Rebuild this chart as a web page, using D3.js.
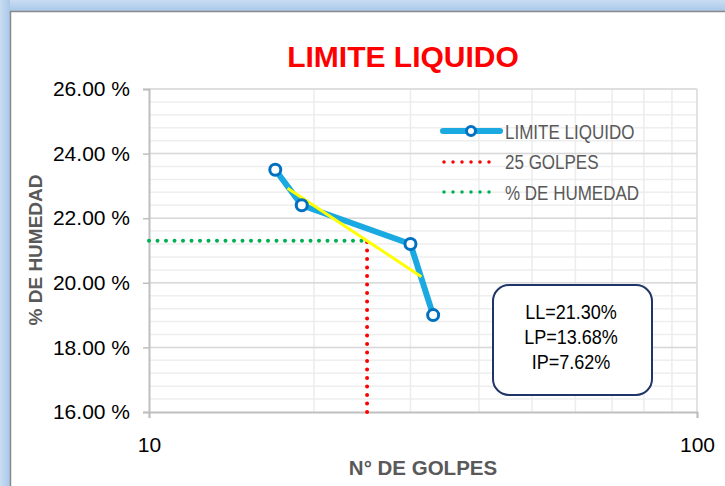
<!DOCTYPE html>
<html>
<head>
<meta charset="utf-8">
<script src="https://cdn.jsdelivr.net/npm/d3@7"></script>
<style>
  body { margin: 0; background: #fff; }
  .chart { width: 725px; height: 486px; }
</style>
</head>
<body>
<div class="chart"></div>
<script>
// datos del ensayo
var golpes = [17, 19, 30, 33];
var humedad = [23.5, 22.4, 21.2, 19.0];
var tendenciaGolpes = [17.9, 31.4];
var tendenciaHumedad = [22.93, 20.19];
var golpesLL = 25;
var limiteLiquido = 21.30;
var resultados = ["LL=21.30%", "LP=13.68%", "IP=7.62%"];
var leyenda = ["LIMITE LIQUIDO", "25 GOLPES", "% DE HUMEDAD"];
var yTicks = [16, 18, 20, 22, 24, 26];
var xTicks = [10, 100];
var xGrid = [20, 30, 40, 50, 60, 70, 80, 90];

var width = 725,
    height = 486;

var fuente = "'Liberation Sans', Arial, sans-serif";

var svg = d3.select(".chart").append("svg")
            .attr("width", width)
            .attr("height", height);

var defs = svg.append("defs");
var grad = defs.append("linearGradient").attr("id", "barra").attr("x1", 0).attr("y1", 0).attr("x2", 0).attr("y2", 1);
grad.append("stop").attr("offset", "0%").attr("stop-color", "#c9ddf2");
grad.append("stop").attr("offset", "100%").attr("stop-color", "#a9c8ea");
var gradL = defs.append("linearGradient").attr("id", "barraL").attr("x1", 0).attr("y1", 0).attr("x2", 1).attr("y2", 0);
gradL.append("stop").attr("offset", "0%").attr("stop-color", "#c9ddf2");
gradL.append("stop").attr("offset", "100%").attr("stop-color", "#a9c8ea");

// marco de la ventana
svg.append("rect").attr("x", 0).attr("y", 0).attr("width", width).attr("height", 11).attr("fill", "url(#barra)");
svg.append("rect").attr("x", 0).attr("y", 0).attr("width", 10).attr("height", height).attr("fill", "url(#barraL)");
svg.append("path")
   .attr("d", "M10.5," + height + "V11.5H" + width)
   .attr("fill", "none")
   .attr("stroke", "#8a8a8a")
   .attr("stroke-width", 1.5);

var x = d3.scaleLog()
          .domain([10, 100])
          .range([149, 697]);

var y = d3.scaleLinear()
          .domain([16, 26])
          .range([412, 89]);

// cuadricula
svg.selectAll(".minor")
   .data(d3.range(16.4, 26, 0.4))
   .enter().append("line")
   .attr("x1", x(10)).attr("x2", x(100))
   .attr("y1", function(d) { return y(d); })
   .attr("y2", function(d) { return y(d); })
   .attr("stroke", "#eeeeee")
   .attr("stroke-width", 1.5);

svg.selectAll(".vgrid")
   .data(xGrid)
   .enter().append("line")
   .attr("x1", function(d) { return x(d); })
   .attr("x2", function(d) { return x(d); })
   .attr("y1", y(26)).attr("y2", y(16))
   .attr("stroke", "#ececec")
   .attr("stroke-width", 1.5);

svg.selectAll(".major")
   .data(yTicks.slice(1))
   .enter().append("line")
   .attr("x1", x(10)).attr("x2", x(100))
   .attr("y1", function(d) { return y(d); })
   .attr("y2", function(d) { return y(d); })
   .attr("stroke", "#d9d9d9")
   .attr("stroke-width", 1.5);

svg.append("line")
   .attr("x1", x(100)).attr("x2", x(100))
   .attr("y1", y(26)).attr("y2", y(16))
   .attr("stroke", "#d9d9d9")
   .attr("stroke-width", 1.5);

// ejes
var yAxis = d3.axisLeft(y)
              .tickValues(yTicks)
              .tickSize(6)
              .tickPadding(13)
              .tickFormat(function(d) { return d3.format(".2f")(d) + " %"; });

var xAxis = d3.axisBottom(x)
              .tickValues(xTicks)
              .tickSize(6)
              .tickPadding(19)
              .tickFormat(d3.format("d"));

var gy = svg.append("g")
            .attr("transform", "translate(" + x(10) + ",0)")
            .call(yAxis);

var gx = svg.append("g")
            .attr("transform", "translate(0," + y(16) + ")")
            .call(xAxis);

[gy, gx].forEach(function(g) {
  g.select(".domain").attr("stroke", "#bfbfbf").attr("stroke-width", 2);
  g.selectAll(".tick line").attr("stroke", "#bfbfbf").attr("stroke-width", 1.5);
  g.selectAll(".tick text")
   .attr("fill", "#000")
   .style("font-family", fuente)
   .style("font-size", "21px");
});

// titulos
svg.append("text")
   .attr("x", 403)
   .attr("y", 67)
   .attr("text-anchor", "middle")
   .style("font-family", fuente)
   .style("font-weight", "bold")
   .style("font-size", "30px")
   .attr("fill", "#ff0000")
   .text("LIMITE LIQUIDO");

svg.append("text")
   .attr("x", 423)
   .attr("y", 475)
   .attr("text-anchor", "middle")
   .style("font-family", fuente)
   .style("font-weight", "bold")
   .style("font-size", "20.5px")
   .attr("fill", "#595959")
   .text("N° DE GOLPES");

svg.append("text")
   .attr("transform", "translate(42,250) rotate(-90)")
   .attr("text-anchor", "middle")
   .style("font-family", fuente)
   .style("font-weight", "bold")
   .style("font-size", "19px")
   .attr("fill", "#595959")
   .text("% DE HUMEDAD");

// lineas punteadas de referencia
var punteado = "0 8.5";

svg.append("line")
   .attr("x1", x(10)).attr("x2", x(golpesLL))
   .attr("y1", y(limiteLiquido)).attr("y2", y(limiteLiquido))
   .attr("stroke", "#00b050")
   .attr("stroke-width", 4)
   .attr("stroke-linecap", "round")
   .attr("stroke-dasharray", punteado);

svg.append("line")
   .attr("x1", x(golpesLL)).attr("x2", x(golpesLL))
   .attr("y1", y(16)).attr("y2", y(limiteLiquido))
   .attr("stroke", "#ff0000")
   .attr("stroke-width", 4)
   .attr("stroke-linecap", "round")
   .attr("stroke-dasharray", punteado);

// curva de fluidez
var datos = golpes.map(function(g, i) { return { golpes: g, humedad: humedad[i] }; });

var line = d3.line()
             .x(function(d) { return x(d.golpes); })
             .y(function(d) { return y(d.humedad); });

svg.append("path")
   .datum(datos)
   .attr("fill", "none")
   .attr("stroke", "#1aa9e1")
   .attr("stroke-width", 6)
   .attr("stroke-linejoin", "round")
   .attr("d", line);

var tendencia = tendenciaGolpes.map(function(g, i) { return { golpes: g, humedad: tendenciaHumedad[i] }; });

svg.append("path")
   .datum(tendencia)
   .attr("fill", "none")
   .attr("stroke", "#ffff00")
   .attr("stroke-width", 3)
   .attr("d", line);

svg.selectAll(".dot")
   .data(datos)
   .enter().append("circle")
   .attr("cx", function(d) { return x(d.golpes); })
   .attr("cy", function(d) { return y(d.humedad); })
   .attr("r", 5.5)
   .attr("fill", "#fff")
   .attr("stroke", "#0070c0")
   .attr("stroke-width", 3);

// leyenda
var ley = svg.append("g").attr("transform", "translate(443,131)");

ley.append("line")
   .attr("x1", 0).attr("x2", 57).attr("y1", 0).attr("y2", 0)
   .attr("stroke", "#1aa9e1").attr("stroke-width", 6).attr("stroke-linecap", "round");
ley.append("circle")
   .attr("cx", 28).attr("cy", 0).attr("r", 4.5)
   .attr("fill", "#fff").attr("stroke", "#0070c0").attr("stroke-width", 3);
ley.append("line")
   .attr("x1", 1).attr("x2", 55).attr("y1", 31).attr("y2", 31)
   .attr("stroke", "#ff0000").attr("stroke-width", 3.5)
   .attr("stroke-linecap", "round").attr("stroke-dasharray", "0 9");
ley.append("line")
   .attr("x1", 1).attr("x2", 55).attr("y1", 61).attr("y2", 61)
   .attr("stroke", "#00b050").attr("stroke-width", 3.5)
   .attr("stroke-linecap", "round").attr("stroke-dasharray", "0 9");

ley.selectAll(".ltext")
   .data(leyenda)
   .enter().append("text")
   .attr("transform", function(d, i) { return "translate(62," + (i * 30.7) + ") scale(0.81,1)"; })
   .attr("dy", "0.36em")
   .style("font-family", fuente)
   .style("font-size", "21px")
   .attr("fill", "#595959")
   .text(function(d) { return d; });

// cuadro de resultados
svg.append("rect")
   .attr("x", 493)
   .attr("y", 285)
   .attr("width", 159)
   .attr("height", 110)
   .attr("rx", 16)
   .attr("fill", "#fff")
   .attr("stroke", "#1f3468")
   .attr("stroke-width", 2);

svg.selectAll(".res")
   .data(resultados)
   .enter().append("text")
   .attr("transform", function(d, i) { return "translate(571," + (319 + i * 25) + ") scale(0.88,1)"; })
   .attr("text-anchor", "middle")
   .style("font-family", fuente)
   .style("font-size", "20.5px")
   .attr("fill", "#000")
   .text(function(d) { return d; });
</script>
</body>
</html>
